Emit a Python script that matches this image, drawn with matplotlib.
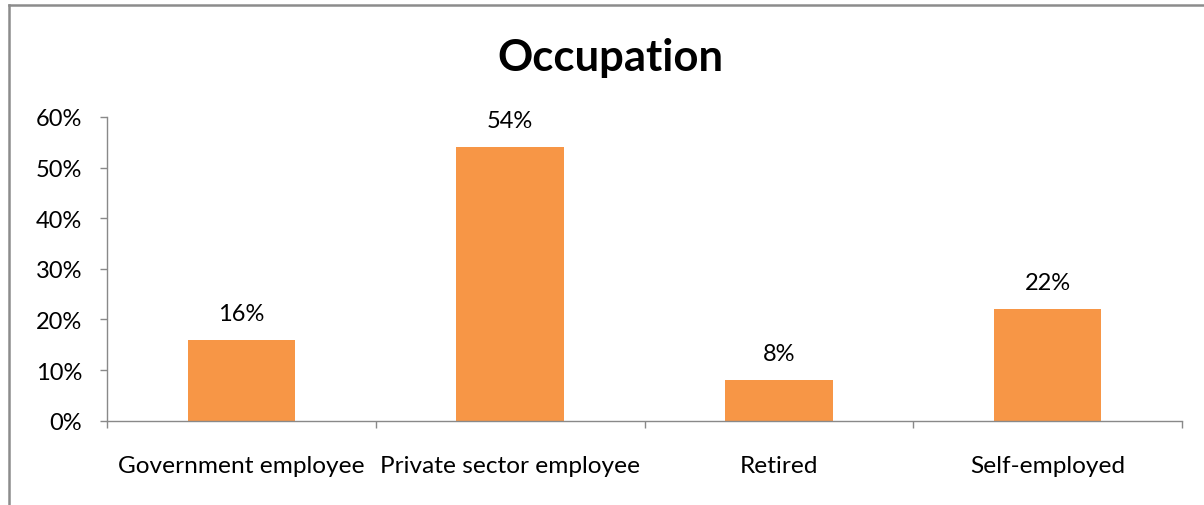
import matplotlib
matplotlib.use("Agg")
import matplotlib.pyplot as plt
from matplotlib.lines import Line2D
from matplotlib.ticker import FixedLocator, PercentFormatter

categories = ["Government employee", "Private sector employee", "Retired", "Self-employed"]
shares = [16, 54, 8, 22]
yticks = [0, 10, 20, 30, 40, 50, 60]

plt.rcParams["font.family"] = ["Lato", "DejaVu Sans"]

W, H, DPI = 1204, 506, 100
fig = plt.figure(figsize=(W / DPI, H / DPI), dpi=DPI)

def fx(px):
    return px / W

def fy(py):
    return 1 - py / H

ax = fig.add_axes([fx(107), fy(421.7), fx(1182) - fx(107), fy(118) - fy(421.7)])

bar_color = "#F79646"
axis_color = "#898989"

x = list(range(len(categories)))
bars = ax.bar(x, shares, width=0.4, color=bar_color, zorder=2)

ax.set_xlim(-0.5, len(categories) - 0.5)
ax.set_ylim(0, 60)

for b, v in zip(bars, shares):
    ax.annotate(f"{v}%", (b.get_x() + b.get_width() / 2, v),
                xytext=(0, 11.5), textcoords="offset points",
                ha="center", va="bottom", fontsize=17, color="#000000")

ax.set_yticks(yticks)
ax.yaxis.set_major_formatter(PercentFormatter(decimals=0))
ax.set_xticks(x)
ax.set_xticklabels(categories)
ax.xaxis.set_minor_locator(FixedLocator([i - 0.5 for i in range(len(categories) + 1)]))

ax.tick_params(axis="y", which="major", direction="out", length=5, width=1.0,
               color=axis_color, labelsize=17, pad=13, labelcolor="#000000")
ax.tick_params(axis="x", which="major", length=0, labelsize=17.6, pad=24.5,
               labelcolor="#000000")
ax.tick_params(axis="x", which="minor", direction="out", length=5, width=1.0,
               color=axis_color)

for side in ("top", "right"):
    ax.spines[side].set_visible(False)
for side in ("left", "bottom"):
    ax.spines[side].set_color(axis_color)
    ax.spines[side].set_linewidth(1.0)

fig.text(fx(610), fy(58), "Occupation", ha="center", va="center",
         fontsize=31.4, fontweight="bold", color="#000000")

# chart-area frame (left and top edges)
frame_color = "#8C8C8C"
fig.add_artist(Line2D([fx(8.5), fx(8.5)], [fy(6), fy(506)], transform=fig.transFigure,
                      color=frame_color, linewidth=1.8))
fig.add_artist(Line2D([fx(8.5), fx(1204)], [fy(6), fy(6)], transform=fig.transFigure,
                      color=frame_color, linewidth=1.8))

fig.savefig("out.png", dpi=DPI, facecolor="white")
